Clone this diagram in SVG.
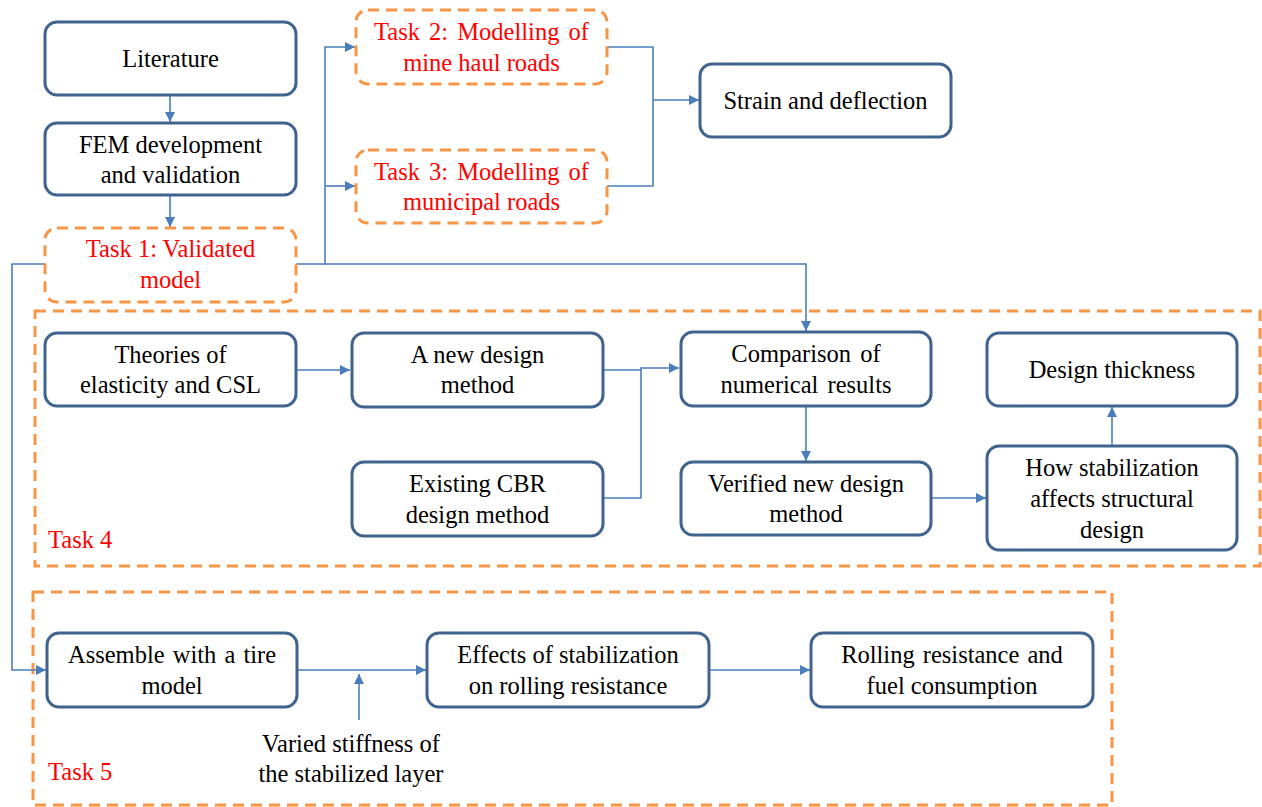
<svg xmlns="http://www.w3.org/2000/svg" width="1262" height="807" viewBox="0 0 1262 807">
<defs>
<marker id="ah" viewBox="0 0 10 10" refX="10" refY="5" markerWidth="10" markerHeight="10" markerUnits="userSpaceOnUse" orient="auto">
<path d="M0,0 L10,5 L0,10 z" fill="#4A7EBB"/>
</marker>
</defs>
<style>
.box{fill:#fff;stroke:#41648F;stroke-width:3}
.dbox{fill:#fff;stroke:#F79646;stroke-width:3;stroke-dasharray:11 7}
.frame{fill:none;stroke:#F79646;stroke-width:3;stroke-dasharray:11 7}
.c{fill:none;stroke:#4A7EBB;stroke-width:1.6}
.a{marker-end:url(#ah)}
.t{font-family:'Liberation Serif','Times New Roman',serif;font-size:24.5px;text-anchor:middle;fill:#000}
.r{fill:#FF0000}
.l{text-anchor:start}
</style>
<rect width="1262" height="807" fill="#fff"/>
<g id="task4-frame"><rect class="frame" x="35" y="311" width="1225" height="255"/><text class="t r l" x="48" y="548">Task 4</text></g>
<g id="task5-frame"><rect class="frame" x="33" y="592" width="1079" height="213"/><text class="t r l" x="48" y="780">Task 5</text></g>
<g id="connectors">
<path class="c a" d="M170,95 V122"/>
<path class="c a" d="M170,195 V227"/>
<path class="c a" d="M296,264 H325 V47 H355"/>
<path class="c a" d="M325,186 H355"/>
<path class="c a" d="M325,264 H806 V331"/>
<path class="c" d="M607,47 H653 V186 H607"/>
<path class="c a" d="M653,100 H699"/>
<path class="c a" d="M45,264 H12 V670 H46"/>
<path class="c a" d="M296,370 H350"/>
<path class="c" d="M603,370 H641"/>
<path class="c a" d="M603,498 H641 V368 H679"/>
<path class="c a" d="M806,406 V461"/>
<path class="c a" d="M931,498 H986"/>
<path class="c a" d="M1112,446 V407"/>
<path class="c a" d="M297,670 H426"/>
<path class="c a" d="M359,720 V674"/>
<path class="c a" d="M709,670 H810"/>
</g>
<g id="literature"><rect class="box" x="45" y="22" width="251" height="73" rx="12"/><text class="t" x="170.5" y="67">Literature</text></g>
<g id="fem"><rect class="box" x="45" y="123" width="251" height="72" rx="12"/><text class="t" x="170.5" y="153">FEM development</text><text class="t" x="170.5" y="183">and validation</text></g>
<g id="task1"><rect class="dbox" x="45" y="228" width="251" height="74" rx="12"/><text class="t r" x="170.5" y="257">Task 1: Validated</text><text class="t r" x="170.5" y="288">model</text></g>
<g id="task2"><rect class="dbox" x="356" y="10" width="251" height="74" rx="12"/><text class="t r" x="481.5" y="40" word-spacing="3">Task 2: Modelling of</text><text class="t r" x="481.5" y="71">mine haul roads</text></g>
<g id="task3"><rect class="dbox" x="356" y="150" width="251" height="73" rx="12"/><text class="t r" x="481.5" y="180" word-spacing="3">Task 3: Modelling of</text><text class="t r" x="481.5" y="210">municipal roads</text></g>
<g id="strain"><rect class="box" x="700" y="64" width="251" height="73" rx="12"/><text class="t" x="825.5" y="109">Strain and deflection</text></g>
<g id="theories"><rect class="box" x="45" y="333" width="251" height="73" rx="12"/><text class="t" x="170.5" y="363">Theories of</text><text class="t" x="170.5" y="393">elasticity and CSL</text></g>
<g id="new-design"><rect class="box" x="352" y="333" width="251" height="74" rx="12"/><text class="t" x="477.5" y="363">A new design</text><text class="t" x="477.5" y="393">method</text></g>
<g id="existing-cbr"><rect class="box" x="352" y="462" width="251" height="74" rx="12"/><text class="t" x="477.5" y="492">Existing CBR</text><text class="t" x="477.5" y="523">design method</text></g>
<g id="comparison"><rect class="box" x="681" y="332" width="250" height="74" rx="12"/><text class="t" x="806" y="362" word-spacing="3">Comparison of</text><text class="t" x="806" y="393" word-spacing="3">numerical results</text></g>
<g id="verified"><rect class="box" x="681" y="462" width="250" height="73" rx="12"/><text class="t" x="806" y="492">Verified new design</text><text class="t" x="806" y="522">method</text></g>
<g id="design-thickness"><rect class="box" x="987" y="333" width="250" height="73" rx="12"/><text class="t" x="1112" y="378">Design thickness</text></g>
<g id="how-stabilization"><rect class="box" x="987" y="446" width="250" height="104" rx="12"/><text class="t" x="1112" y="476">How stabilization</text><text class="t" x="1112" y="507">affects structural</text><text class="t" x="1112" y="538">design</text></g>
<g id="assemble"><rect class="box" x="47" y="633" width="250" height="74" rx="12"/><text class="t" x="172" y="663" word-spacing="2">Assemble with a tire</text><text class="t" x="172" y="694">model</text></g>
<g id="effects"><rect class="box" x="427" y="633" width="282" height="74" rx="12"/><text class="t" x="568" y="663">Effects of stabilization</text><text class="t" x="568" y="694">on rolling resistance</text></g>
<g id="rolling"><rect class="box" x="811" y="633" width="282" height="74" rx="12"/><text class="t" x="952" y="663" word-spacing="2">Rolling resistance and</text><text class="t" x="952" y="694">fuel consumption</text></g>
<g id="varied-stiffness"><text class="t" x="351" y="752">Varied stiffness of</text><text class="t" x="351" y="782">the stabilized layer</text></g>
</svg>
